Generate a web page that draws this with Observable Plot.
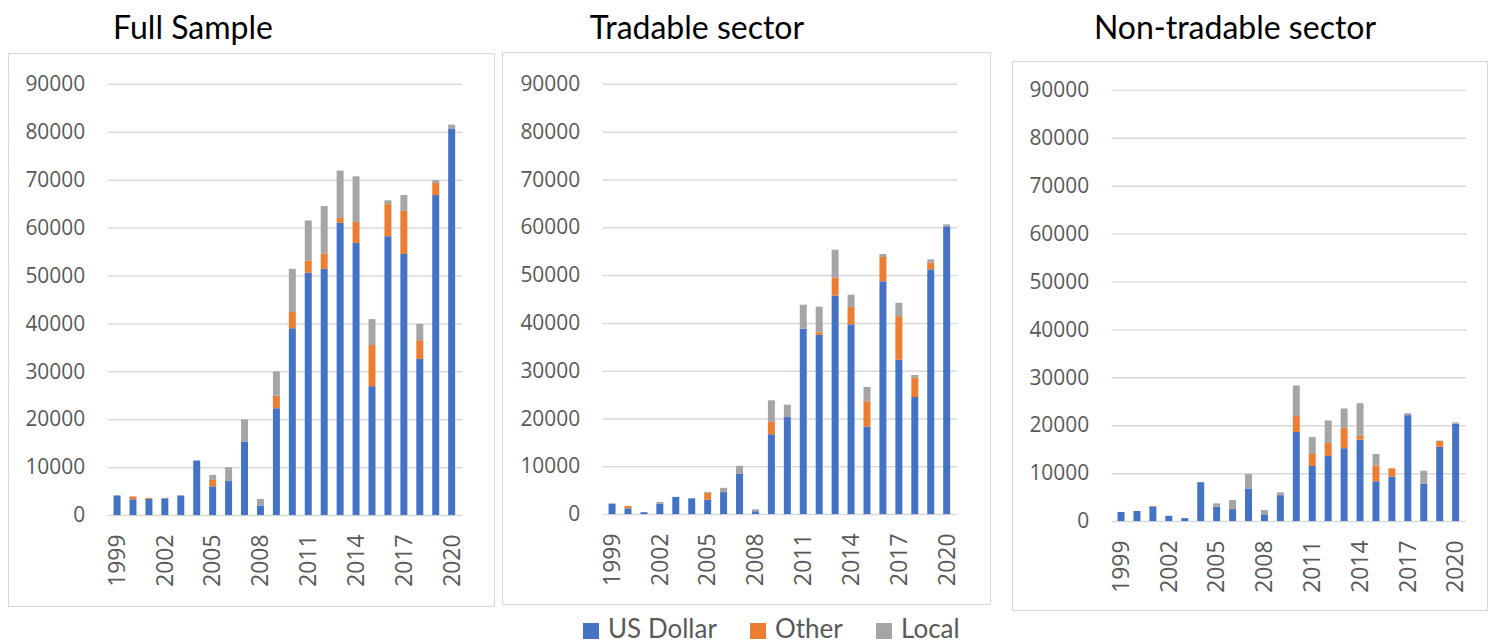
<!DOCTYPE html>
<html><head><meta charset="utf-8">
<script src="https://cdn.jsdelivr.net/npm/d3@7"></script>
<script src="https://cdn.jsdelivr.net/npm/@observablehq/plot@0.6"></script>
<style>
html,body{margin:0;padding:0;background:#fff;}
body{width:1491px;height:642px;position:relative;overflow:hidden;font-family:"Open Sans",sans-serif;}
.box{position:absolute;border:1.5px solid #d9d9d9;box-sizing:border-box;}
.box svg{position:absolute;left:-1.5px;top:-1.5px;overflow:visible;}
.title{position:absolute;font-family:Lato,sans-serif;font-size:32px;line-height:32px;color:#000;transform:translateX(-50%);white-space:nowrap;}
.sw{position:absolute;width:16px;height:16px;}
.lt{position:absolute;font-family:Lato,sans-serif;font-size:26px;line-height:26px;color:#595959;white-space:nowrap;}
</style>
</head><body>
<script>
const years = [1999,2000,2001,2002,2003,2004,2005,2006,2007,2008,2009,2010,2011,2012,2013,2014,2015,2016,2017,2018,2019,2020];
const seriesNames = ["US Dollar","Other","Local"];
const seriesColors = ["#4472C4","#ED7D31","#A5A5A5"];
const yTicks = [0,10000,20000,30000,40000,50000,60000,70000,80000,90000];
const xTicks = [1999,2002,2005,2008,2011,2014,2017,2020];
const titles = ["Full Sample","Tradable sector","Non-tradable sector"];

// Full sample
const fullUSD   = [4100,3300,3400,3500,4100,11400,6000,7100,15300,2000,22300,39000,50600,51400,61000,56800,26900,58200,54500,32600,66800,80700];
const fullOther = [0,600,200,0,0,0,1350,0,0,0,2600,3400,2500,3200,1000,4400,8600,6700,9000,3900,2500,0];
const fullLocal = [0,0,0,100,0,0,1050,2900,4700,1350,5100,9000,8400,9900,9900,9500,5400,800,3300,3400,600,800];
// Tradable sector
const tradUSD   = [2200,1200,400,2200,3600,3300,3000,4600,8400,600,16700,20300,38800,37500,45700,39700,18300,48700,32300,24500,51200,60200];
const tradOther = [0,500,0,0,0,0,1450,0,0,0,2600,0,0,550,3800,3600,5300,5100,9100,4000,1400,0];
const tradLocal = [0,0,0,350,0,0,200,900,1700,400,4500,2600,5000,5350,5800,2600,3000,600,2800,600,700,400];
// Non-tradable sector
const ntUSD   = [1900,2100,3000,1100,600,8100,3000,2500,6800,1400,5400,18600,11500,13600,15200,17000,8300,9300,22100,7800,15500,20300];
const ntOther = [0,0,150,0,0,0,0,0,0,0,0,3300,2500,2700,4200,800,3300,1700,0,0,1200,0];
const ntLocal = [0,0,0,0,0,0,700,1900,3000,900,600,6400,3500,4700,4100,6800,2400,0,400,2700,100,300];

const panels = [
  {usd:fullUSD, other:fullOther, local:fullLocal, left:8,    top:53, w:487, h:554, ml:100, mr:31, mt:31, mb:90, tx:193},
  {usd:tradUSD, other:tradOther, local:tradLocal, left:502,  top:52, w:489, h:553, ml:101, mr:32, mt:32, mb:89, tx:697},
  {usd:ntUSD,   other:ntOther,   local:ntLocal,   left:1012, top:61, w:476, h:550, ml:100, mr:20, mt:29, mb:88, tx:1235}
];

panels.forEach((p, k) => {
  const data = [];
  years.forEach((yr, i) => {
    data.push({year: yr, series: seriesNames[0], value: p.usd[i]});
    data.push({year: yr, series: seriesNames[1], value: p.other[i]});
    data.push({year: yr, series: seriesNames[2], value: p.local[i]});
  });
  const svg = Plot.plot({
    width: p.w, height: p.h,
    marginLeft: p.ml, marginRight: p.mr, marginTop: p.mt, marginBottom: p.mb,
    x: {type: "band", domain: years, paddingInner: 0.55, paddingOuter: 0.275, axis: null, label: null},
    y: {domain: [0, 90000], axis: null, label: null},
    color: {domain: seriesNames, range: seriesColors},
    style: {fontFamily: "'Open Sans', sans-serif", fontSize: "21px", color: "#595959", background: "transparent", overflow: "visible"},
    marks: [
      Plot.gridY(yTicks, {stroke: "#d9d9d9", strokeOpacity: 1, strokeWidth: 1.5}),
      Plot.barY(data, {x: "year", y: "value", fill: "series", order: seriesNames}),
      Plot.axisY(yTicks, {tickSize: 0, tickPadding: 23, tickFormat: d => String(d), fill: "#595959", fontSize: 21, label: null}),
      Plot.axisX(xTicks, {tickSize: 0, tickRotate: -90, tickPadding: 19, tickFormat: d => String(d), fill: "#595959", fontSize: 23, label: null})
    ]
  });
  const box = document.createElement("div");
  box.className = "box";
  box.style.left = p.left + "px";
  box.style.top = p.top + "px";
  box.style.width = p.w + "px";
  box.style.height = p.h + "px";
  box.appendChild(svg);
  document.body.appendChild(box);

  const t = document.createElement("div");
  t.className = "title";
  t.textContent = titles[k];
  t.style.left = p.tx + "px";
  t.style.top = "11px";
  document.body.appendChild(t);
});

// legend below the charts
const legendX = [583, 750, 876];
seriesNames.forEach((name, i) => {
  const s = document.createElement("div");
  s.className = "sw";
  s.style.left = legendX[i] + "px";
  s.style.top = "623px";
  s.style.background = seriesColors[i];
  document.body.appendChild(s);
  const t = document.createElement("div");
  t.className = "lt";
  t.textContent = name;
  t.style.left = (legendX[i] + 25) + "px";
  t.style.top = "615px";
  document.body.appendChild(t);
});
</script>
</body></html>
